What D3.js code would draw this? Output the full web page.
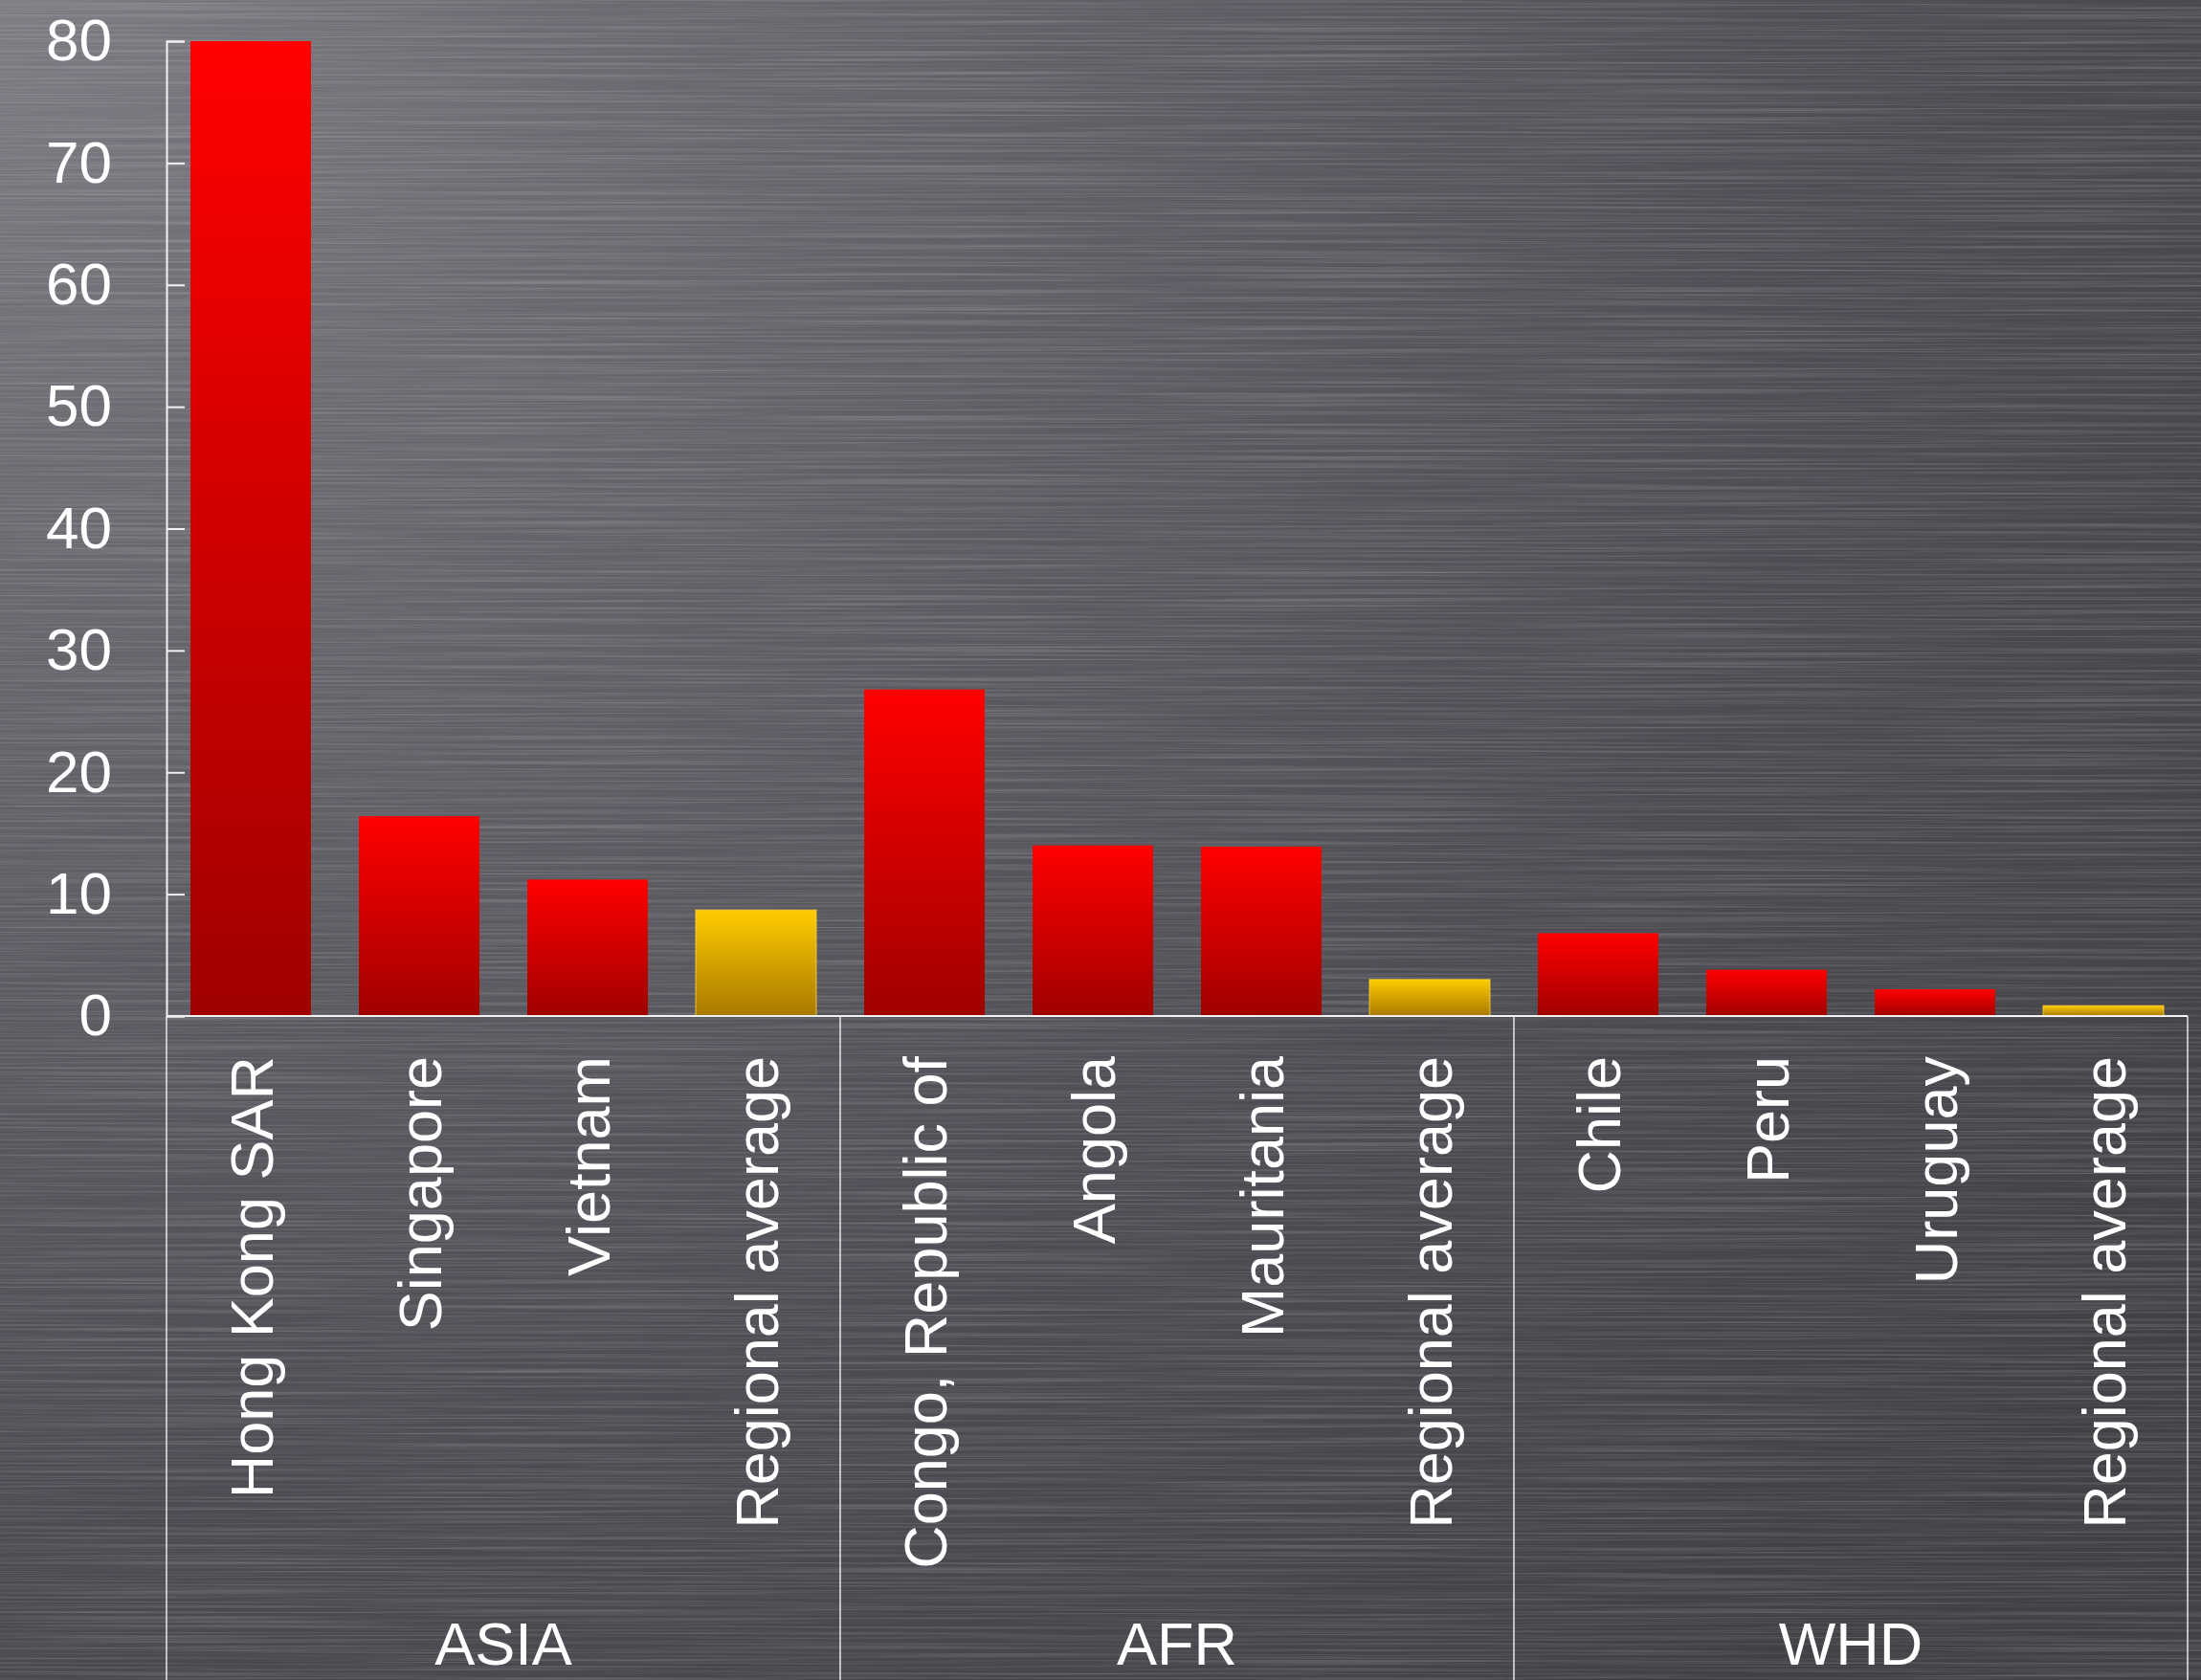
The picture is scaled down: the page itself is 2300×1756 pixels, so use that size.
<!DOCTYPE html>
<html>
<head>
<meta charset="utf-8">
<script src="https://cdn.jsdelivr.net/npm/d3@7"></script>
<style>
  html, body { margin: 0; padding: 0; background: #55545a; }
  svg { display: block; }
  text { font-family: "Liberation Sans", Arial, sans-serif; fill: #ffffff; }
</style>
</head>
<body>
<svg id="chart" width="2300" height="1756"></svg>
<script>
// Bar categories, grouped by region (one region entry per bar)
const categories = [
  "Hong Kong SAR", "Singapore", "Vietnam", "Regional average",
  "Congo, Republic of", "Angola", "Mauritania", "Regional average",
  "Chile", "Peru", "Uruguay", "Regional average"
];
const regions = [
  "ASIA", "ASIA", "ASIA", "ASIA",
  "AFR", "AFR", "AFR", "AFR",
  "WHD", "WHD", "WHD", "WHD"
];
const groups = ["ASIA", "AFR", "WHD"];
const values = [80, 16.4, 11.2, 8.7, 26.8, 14.0, 13.9, 3.0, 6.8, 3.8, 2.2, 0.85];
const yTicks = [0, 10, 20, 30, 40, 50, 60, 70, 80];

const W = 2300, H = 1756;
const plot = { left: 174, right: 2286, top: 43, bottom: 1062 };

const svg = d3.select("#chart");
const defs = svg.append("defs");

// Brushed-metal backdrop: a radial falloff from the top-left corner plus horizontal grain
const bg = defs.append("radialGradient")
  .attr("id", "bgGrad")
  .attr("gradientUnits", "userSpaceOnUse")
  .attr("cx", 0).attr("cy", 0).attr("r", 2900)
  .attr("gradientTransform", "scale(1, 0.78)");
[[0, "#7c7c82"], [0.22, "#6c6b71"], [0.45, "#5c5b61"], [0.7, "#4d4c52"], [1, "#414045"]]
  .forEach(([o, c]) => bg.append("stop").attr("offset", o).attr("stop-color", c));

function grainFilter(id, freq, seed, matrix) {
  const f = defs.append("filter")
    .attr("id", id)
    .attr("filterUnits", "userSpaceOnUse")
    .attr("x", 0).attr("y", 0).attr("width", W).attr("height", H);
  f.append("feTurbulence")
    .attr("type", "fractalNoise")
    .attr("baseFrequency", freq)
    .attr("numOctaves", 3)
    .attr("seed", seed)
    .attr("result", "noise");
  f.append("feColorMatrix")
    .attr("in", "noise")
    .attr("type", "matrix")
    .attr("values", matrix);
}
// light streaks
grainFilter("grainLight", "0.0025 0.45", 7,
  "0 0 0 0 0.92  0 0 0 0 0.92  0 0 0 0 0.96  1.2 0 0 0 -0.5");
// dark streaks
grainFilter("grainDark", "0.003 0.5", 19,
  "0 0 0 0 0.08  0 0 0 0 0.07  0 0 0 0 0.1  -1.2 0 0 0 0.5");

svg.append("rect").attr("width", W).attr("height", H).attr("fill", "url(#bgGrad)");
svg.append("rect").attr("width", W).attr("height", H).attr("fill", "#fff")
  .attr("filter", "url(#grainLight)").attr("opacity", 0.35);
svg.append("rect").attr("width", W).attr("height", H).attr("fill", "#000")
  .attr("filter", "url(#grainDark)").attr("opacity", 0.45);

// Bar fills: bright at the top, darkening toward the baseline
function barGradient(id, top, bottom) {
  const g = defs.append("linearGradient")
    .attr("id", id).attr("x1", 0).attr("y1", 0).attr("x2", 0).attr("y2", 1);
  g.append("stop").attr("offset", 0).attr("stop-color", top);
  g.append("stop").attr("offset", 1).attr("stop-color", bottom);
}
barGradient("redGrad", "#ff0000", "#a00000");
barGradient("goldGrad", "#ffcc00", "#a87800");

// Scales
const x = d3.scaleBand()
  .domain(d3.range(categories.length))
  .range([plot.left, plot.right])
  .paddingInner(50 / 176)
  .paddingOuter(25 / 176);

const gx = d3.scaleBand()
  .domain(groups)
  .range([plot.left, plot.right]);

const y = d3.scaleLinear()
  .domain([0, 80])
  .range([plot.bottom, plot.top]);

// Bars
const isAverage = i => categories[i] === "Regional average";
svg.append("g")
  .selectAll("rect")
  .data(values)
  .join("rect")
  .attr("x", (d, i) => x(i))
  .attr("y", d => y(d))
  .attr("width", x.bandwidth())
  .attr("height", d => y(0) - y(d))
  .attr("fill", (d, i) => isAverage(i) ? "url(#goldGrad)" : "url(#redGrad)")
  .attr("stroke", (d, i) => isAverage(i) ? "rgba(255,214,60,0.55)" : "none")
  .attr("stroke-width", 1.5);

// Value axis with ticks pointing into the plot
const yAxis = d3.axisLeft(y)
  .tickValues(yTicks)
  .tickFormat(d3.format("d"))
  .tickSizeInner(-19)
  .tickSizeOuter(-19)
  .tickPadding(57);

const yg = svg.append("g")
  .attr("transform", `translate(${plot.left},0)`)
  .call(yAxis);
yg.select(".domain").attr("stroke", "#f2f2f2").attr("stroke-width", 2);
yg.selectAll(".tick line").attr("stroke", "#f2f2f2").attr("stroke-width", 2);
yg.selectAll(".tick text")
  .attr("fill", "#ffffff")
  .style("font-family", "'Liberation Sans', Arial, sans-serif")
  .style("font-size", "62px");

// Category baseline
svg.append("line")
  .attr("x1", plot.left).attr("x2", plot.right)
  .attr("y1", y(0)).attr("y2", y(0))
  .attr("stroke", "#f2f2f2").attr("stroke-width", 2);

// Region dividers running below the baseline
const dividers = groups.map(g => gx(g)).concat([gx.range()[1]]);
svg.append("g")
  .selectAll("line")
  .data(dividers)
  .join("line")
  .attr("x1", d => d).attr("x2", d => d)
  .attr("y1", y(0)).attr("y2", H)
  .attr("stroke", "#e8e8e8").attr("stroke-width", 1.5);

// Rotated category labels
svg.append("g")
  .selectAll("text")
  .data(categories)
  .join("text")
  .attr("transform", (d, i) => `translate(${x(i) + x.bandwidth() / 2},1104) rotate(-90)`)
  .attr("text-anchor", "end")
  .attr("dy", "0.36em")
  .style("font-size", "63px")
  .text(d => d);

// Region labels
svg.append("g")
  .selectAll("text")
  .data(groups)
  .join("text")
  .attr("x", g => gx(g) + gx.bandwidth() / 2)
  .attr("y", 1740)
  .attr("text-anchor", "middle")
  .style("font-size", "63px")
  .text(g => g);
</script>
</body>
</html>
